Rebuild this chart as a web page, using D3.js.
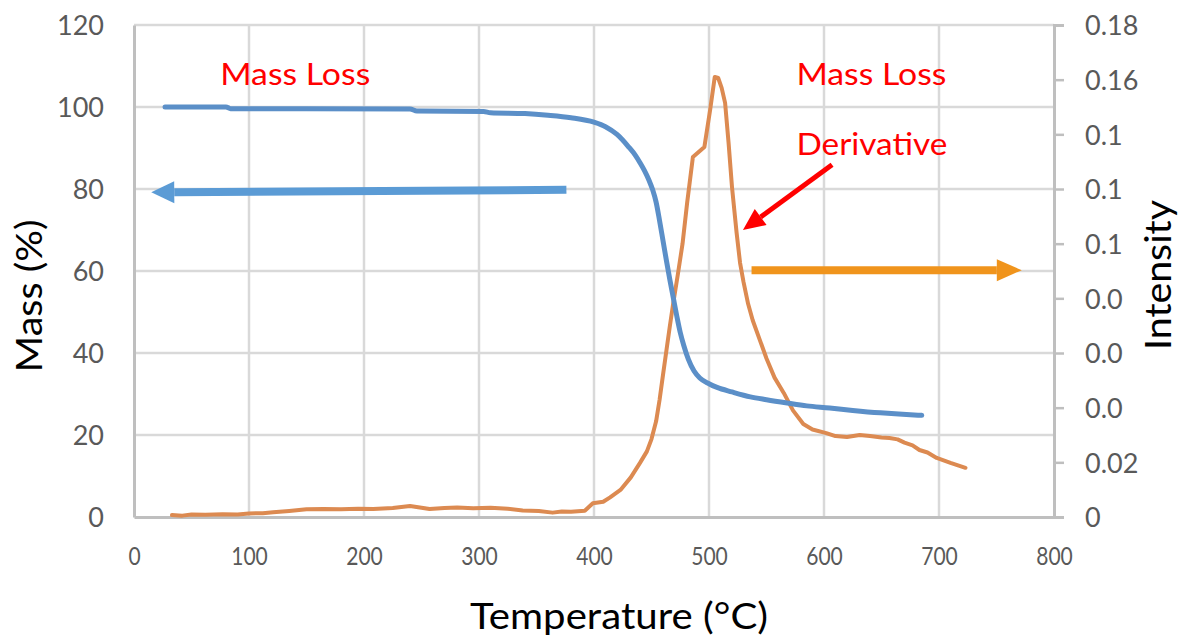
<!DOCTYPE html>
<html>
<head>
<meta charset="utf-8">
<script src="https://cdn.jsdelivr.net/npm/d3@7"></script>
<style>
  html, body { margin: 0; padding: 0; background: #ffffff; }
  svg { display: block; }
  text { font-family: Lato, "Open Sans", "DejaVu Sans", sans-serif; }
</style>
</head>
<body>
<svg id="chart" width="1183" height="636"></svg>
<script>
// ---------------- DATA ----------------
const massTemp = [27, 80, 84, 150, 240, 246, 304, 310, 340, 360, 380, 400, 410, 420, 430, 436, 440, 444, 448, 451, 454, 457, 460, 463, 466, 469, 472, 475, 478, 482, 487, 492, 500, 507, 520, 536, 550, 568, 585, 605, 625, 649, 665, 685];
const massValues = [100, 100, 99.6, 99.6, 99.5, 99.0, 98.9, 98.6, 98.4, 98.0, 97.4, 96.3, 95.2, 93.3, 90.3, 88.2, 86.4, 84.4, 82.0, 79.8, 76.8, 72.3, 67.4, 62.5, 57.8, 53.4, 49.0, 45.0, 41.9, 38.5, 35.6, 33.9, 32.5, 31.6, 30.5, 29.3, 28.6, 27.8, 27.1, 26.6, 26.0, 25.4, 25.1, 24.8];

const derivTemp = [33, 42, 50, 62, 77, 90, 100, 112, 121, 135, 150, 165, 180, 195, 208, 225, 240, 250, 257, 270, 281, 295, 310, 325, 338, 352, 364, 372, 380, 392, 399, 408, 414, 423, 432, 440, 446, 450, 454, 457, 460, 463, 466, 469, 473, 477, 481, 486, 496, 501, 505, 508, 511, 514, 517, 520, 524, 527, 530, 534, 538, 544, 550, 557, 565, 573, 582, 590, 602, 610, 620, 631, 640, 650, 657, 664, 670, 677, 683, 690, 698, 710, 723];
const derivValues = [0.0007, 0.0005, 0.0009, 0.0008, 0.0010, 0.0009, 0.0013, 0.0014, 0.0017, 0.0022, 0.0028, 0.0029, 0.0028, 0.0030, 0.0029, 0.0033, 0.0040, 0.0034, 0.0029, 0.0033, 0.0035, 0.0032, 0.0034, 0.0030, 0.0024, 0.0022, 0.0016, 0.0020, 0.0019, 0.0023, 0.0050, 0.0056, 0.0072, 0.0099, 0.0145, 0.0198, 0.0240, 0.0285, 0.0350, 0.0428, 0.0520, 0.0610, 0.0700, 0.0785, 0.0890, 0.1000, 0.1150, 0.1317, 0.1354, 0.1490, 0.1610, 0.1606, 0.1570, 0.1515, 0.1370, 0.1207, 0.1040, 0.0930, 0.0860, 0.0780, 0.0720, 0.0650, 0.0580, 0.0510, 0.0454, 0.0390, 0.0340, 0.0320, 0.0307, 0.0296, 0.0293, 0.0300, 0.0296, 0.0291, 0.0289, 0.0284, 0.0272, 0.0262, 0.0245, 0.0236, 0.0216, 0.0198, 0.0180];

const xTicks = [0, 100, 200, 300, 400, 500, 600, 700, 800];
const yLeftTicks = [0, 20, 40, 60, 80, 100, 120];
const yRightTicks = [0, 0.02, 0.04, 0.06, 0.08, 0.10, 0.12, 0.14, 0.16, 0.18];
const yRightLabels = ["0", "0.02", "0.0", "0.0", "0.0", "0.1", "0.1", "0.1", "0.16", "0.18"];

const xTitle = "Temperature (°C)";
const yLeftTitle = "Mass (%)";
const yRightTitle = "Intensity";

// annotations (in data units: temperature, mass %)
const annotationTexts = [
  { text: "Mass Loss", t: 75, m: 105.4, len: 150 },
  { text: "Mass Loss", t: 576, m: 105.4, len: 150 },
  { text: "Derivative", t: 576, m: 88.3, len: 151 }
];
const blueArrow = { t1: 376, m1: 79.8, t2: 15, m2: 79.2 };
const orangeArrow = { t1: 537, m1: 60.2, t2: 772, m2: 60.2 };
const redArrow = { t1: 607, m1: 85.9, t2: 529.5, m2: 70.0 };

// ---------------- LAYOUT ----------------
const svg = d3.select("#chart");
const pL = 134, pR = 1054, pT = 25, pB = 517;

const x = d3.scaleLinear().domain([0, 800]).range([pL, pR]);
const yL = d3.scaleLinear().domain([0, 120]).range([pB, pT]);
const yR = d3.scaleLinear().domain([0, 0.18]).range([pB, pT]);

const gridColor = "#d9d9d9";
const axisColor = "#bfbfbf";
const tickText = "#595959";

// gridlines
const grid = svg.append("g");
grid.selectAll("line.h").data(yLeftTicks.filter(d => d > 0)).join("line")
  .attr("class", "h")
  .attr("x1", pL).attr("x2", pR)
  .attr("y1", d => yL(d)).attr("y2", d => yL(d))
  .attr("stroke", gridColor).attr("stroke-width", 2.5);
grid.selectAll("line.v").data(xTicks.filter(d => d > 0 && d < 800)).join("line")
  .attr("class", "v")
  .attr("x1", d => x(d)).attr("x2", d => x(d))
  .attr("y1", pT).attr("y2", pB)
  .attr("stroke", gridColor).attr("stroke-width", 2.5);

// left axis
const gLeft = svg.append("g").attr("transform", `translate(${pL},0)`)
  .call(d3.axisLeft(yL).tickValues(yLeftTicks).tickSize(0).tickPadding(30).tickFormat(d3.format("d")));
gLeft.select(".domain").attr("stroke", axisColor).attr("stroke-width", 3);
gLeft.selectAll("text").attr("font-size", 27).attr("fill", tickText)
  .attr("font-family", "Lato, sans-serif").attr("dy", "0.36em");

// bottom axis
const gBottom = svg.append("g").attr("transform", `translate(0,${pB})`)
  .call(d3.axisBottom(x).tickValues(xTicks).tickSize(0).tickPadding(30).tickFormat(d3.format("d")));
gBottom.select(".domain").attr("stroke", axisColor).attr("stroke-width", 3);
gBottom.selectAll("text").attr("font-size", 25).attr("fill", tickText)
  .attr("font-family", "Lato, sans-serif").attr("dy", "0.71em")
  .attr("textLength", d => String(d).length * 12.2).attr("lengthAdjust", "spacingAndGlyphs");

// right axis
const gRight = svg.append("g").attr("transform", `translate(${pR},0)`)
  .call(d3.axisRight(yR).tickValues(yRightTicks).tickSize(10).tickPadding(21)
    .tickFormat((d, i) => yRightLabels[i]));
gRight.select(".domain").attr("stroke", axisColor).attr("stroke-width", 3);
gRight.selectAll(".tick line").attr("stroke", axisColor).attr("stroke-width", 2.5);
gRight.selectAll("text").attr("font-size", 27).attr("fill", tickText)
  .attr("font-family", "Lato, sans-serif").attr("dy", "0.36em");

// axis titles
svg.append("text").text(xTitle)
  .attr("x", 619).attr("y", 629).attr("text-anchor", "middle")
  .attr("font-size", 37).attr("fill", "#000")
  .attr("textLength", 298).attr("lengthAdjust", "spacingAndGlyphs");
svg.append("text").text(yLeftTitle)
  .attr("transform", "translate(42,296) rotate(-90)").attr("text-anchor", "middle")
  .attr("font-size", 37).attr("fill", "#000")
  .attr("textLength", 153).attr("lengthAdjust", "spacingAndGlyphs");
svg.append("text").text(yRightTitle)
  .attr("transform", "translate(1171,275) rotate(-90)").attr("text-anchor", "middle")
  .attr("font-size", 37).attr("fill", "#000")
  .attr("textLength", 150).attr("lengthAdjust", "spacingAndGlyphs");

// lines
const massData = massTemp.map((t, i) => [t, massValues[i]]);
const derivData = derivTemp.map((t, i) => [t, derivValues[i]]);

svg.append("path").datum(derivData)
  .attr("fill", "none").attr("stroke", "#dc8a51").attr("stroke-width", 4)
  .attr("stroke-linejoin", "round").attr("stroke-linecap", "round")
  .attr("d", d3.line().x(d => x(d[0])).y(d => yR(d[1])).curve(d3.curveLinear));

svg.append("path").datum(massData)
  .attr("fill", "none").attr("stroke", "#5b8fc8").attr("stroke-width", 5)
  .attr("stroke-linejoin", "round").attr("stroke-linecap", "round")
  .attr("d", d3.line().x(d => x(d[0])).y(d => yL(d[1])).curve(d3.curveMonotoneX));

// arrows
function drawArrow(a, color, width, headLen, headHalf) {
  const x1 = x(a.t1), y1 = yL(a.m1), x2 = x(a.t2), y2 = yL(a.m2);
  const ang = Math.atan2(y2 - y1, x2 - x1);
  const bx = x2 - headLen * Math.cos(ang), by = y2 - headLen * Math.sin(ang);
  svg.append("line").attr("x1", x1).attr("y1", y1).attr("x2", bx).attr("y2", by)
    .attr("stroke", color).attr("stroke-width", width);
  const px = -Math.sin(ang) * headHalf, py = Math.cos(ang) * headHalf;
  svg.append("polygon")
    .attr("points", [[x2, y2], [bx + px, by + py], [bx - px, by - py]].map(p => p.join(",")).join(" "))
    .attr("fill", color);
}
drawArrow(blueArrow, "#5b9bd5", 8, 23, 11);
drawArrow(orangeArrow, "#f0941c", 8, 25, 11);
drawArrow(redArrow, "#ff0000", 5, 22, 10);

// annotation texts
svg.selectAll("text.ann").data(annotationTexts).join("text")
  .attr("class", "ann")
  .attr("x", d => x(d.t)).attr("y", d => yL(d.m))
  .attr("font-size", 31).attr("fill", "#ff0000")
  .attr("textLength", d => d.len).attr("lengthAdjust", "spacingAndGlyphs")
  .text(d => d.text);
</script>
</body>
</html>
